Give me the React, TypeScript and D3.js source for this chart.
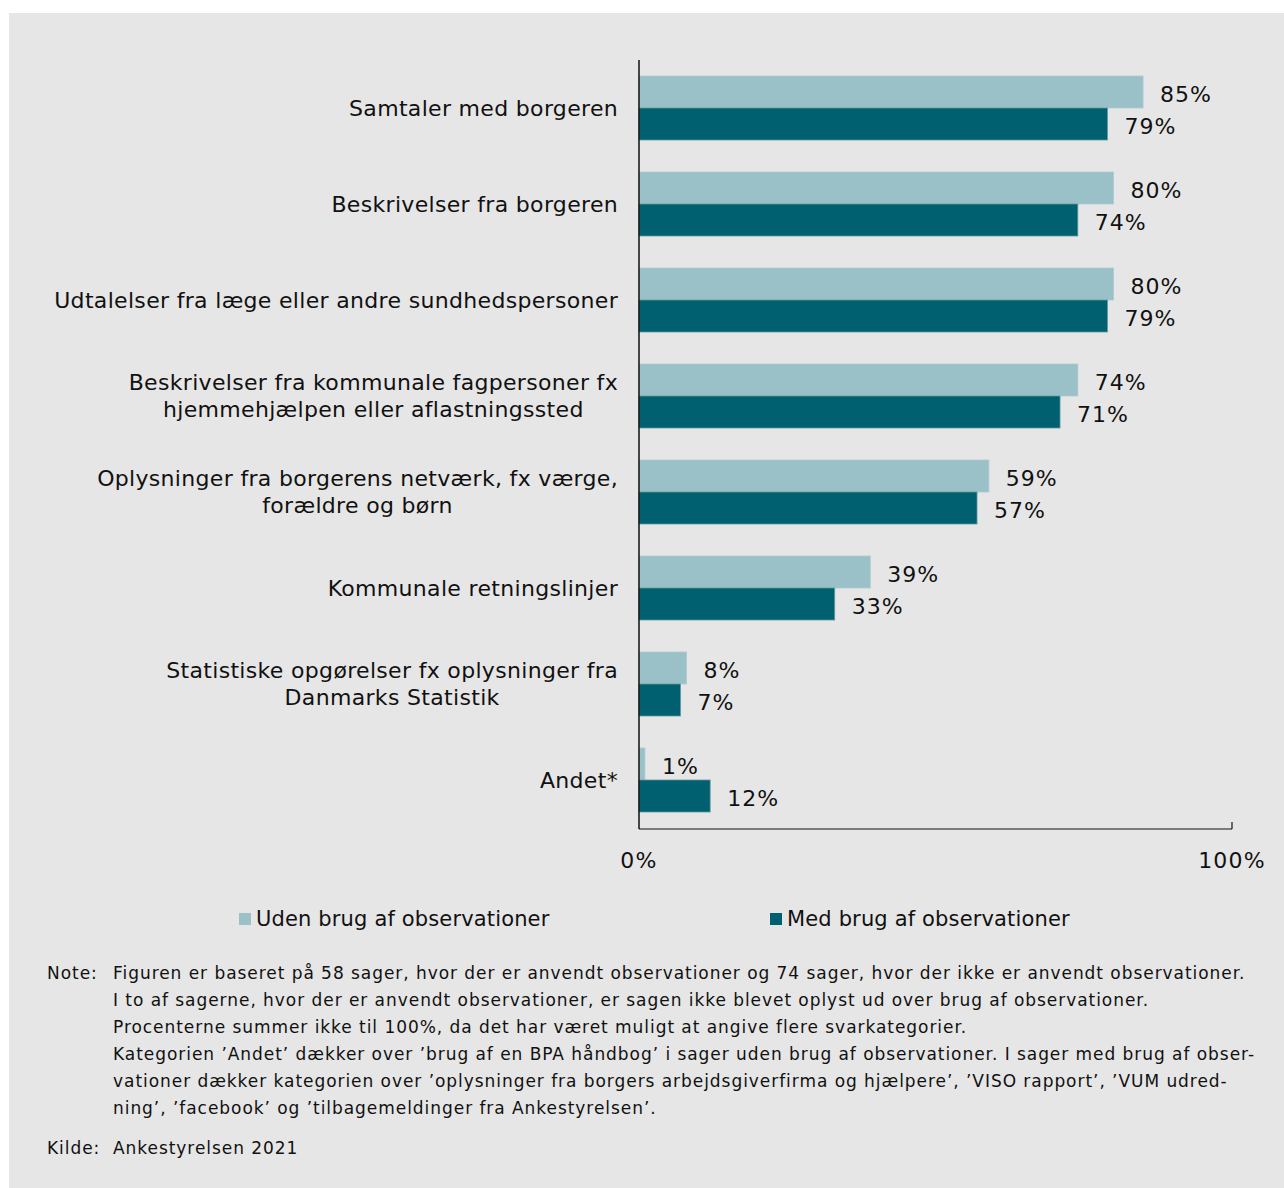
import React from "react";
import * as d3 from "d3";

const categories = [
  ["Samtaler med borgeren"],
  ["Beskrivelser fra borgeren"],
  ["Udtalelser fra læge eller andre sundhedspersoner"],
  ["Beskrivelser fra kommunale fagpersoner fx", "hjemmehjælpen eller aflastningssted"],
  ["Oplysninger fra borgerens netværk, fx værge,", "forældre og børn"],
  ["Kommunale retningslinjer"],
  ["Statistiske opgørelser fx oplysninger fra", "Danmarks Statistik"],
  ["Andet*"],
];
const udenValues = [85, 80, 80, 74, 59, 39, 8, 1];
const medValues = [79, 74, 79, 71, 57, 33, 7, 12];
const seriesNames = ["Uden brug af observationer", "Med brug af observationer"];
const xTicks = [0, 100];

const noteLines = [
  "Figuren er baseret på 58 sager, hvor der er anvendt observationer og 74 sager, hvor der ikke er anvendt observationer.",
  "I to af sagerne, hvor der er anvendt observationer, er sagen ikke blevet oplyst ud over brug af observationer.",
  "Procenterne summer ikke til 100%, da det har været muligt at angive flere svarkategorier.",
  "Kategorien ’Andet’ dækker over ’brug af en BPA håndbog’ i sager uden brug af observationer. I sager med brug af obser-",
  "vationer dækker kategorien over ’oplysninger fra borgers arbejdsgiverfirma og hjælpere’, ’VISO rapport’, ’VUM udred-",
  "ning’, ’facebook’ og ’tilbagemeldinger fra Ankestyrelsen’.",
];
const source = "Ankestyrelsen 2021";

const LIGHT = "#9bc1c8";
const DARK = "#00606f";
const FONT = "'DejaVu Sans', Verdana, sans-serif";

const CAT_SIZE = 22;
const CAT_LS = 0.32;

// rough text width via canvas, fonts are installed locally
let ctx: CanvasRenderingContext2D | null = null;
function textWidth(s: string, size: number, ls: number) {
  if (!ctx) ctx = document.createElement("canvas").getContext("2d");
  if (!ctx) return s.length * size * 0.6;
  ctx.font = `${size}px 'DejaVu Sans'`;
  return ctx.measureText(s).width + ls * s.length;
}

export default function App() {
  const width = 1284;
  const height = 1188;
  const axisTop = 60;
  const axisBottom = 829;
  const labelRight = 618;

  const x = d3.scaleLinear().domain([0, 100]).range([639, 1232]);
  const y = d3
    .scaleBand<number>()
    .domain(categories.map((_, i) => i))
    .range([axisTop, axisTop + 96 * categories.length])
    .paddingInner(1 / 3)
    .paddingOuter(1 / 6);
  const sub = d3.scaleBand<number>().domain([0, 1]).range([0, y.bandwidth()]);
  const series = [udenValues, medValues];
  const colors = [LIGHT, DARK];

  return (
    <svg
      width={width}
      height={height}
      style={{ position: "absolute", left: 0, top: 0 }}
      fontFamily={FONT}
    >
      <rect x={0} y={0} width={width} height={height} fill="#ffffff" />
      <rect x={9} y={13} width={width - 9} height={height - 13} fill="#e6e6e6" />

      {series.map((vals, s) =>
        vals.map((v, i) => (
          <g key={`${s}-${i}`}>
            <rect
              x={x(0)}
              y={y(i)! + sub(s)!}
              width={x(v) - x(0)}
              height={sub.bandwidth()}
              fill={colors[s]}
              stroke={s === 0 ? "#a9cad0" : "#5f98a1"}
              strokeWidth={0.8}
            />
            <text
              x={x(v) + 17}
              y={y(i)! + sub(s)! + sub.bandwidth() / 2}
              dy="0.45em"
              fontSize={22}
              letterSpacing={1}
              fill="#111"
            >
              {v}%
            </text>
          </g>
        ))
      )}

      {categories.map((lines, i) => {
        const cy = y(i)! + y.bandwidth() / 2;
        const lh = 27;
        const w = d3.max(lines, (l) => textWidth(l, CAT_SIZE, CAT_LS))!;
        const cx = labelRight - w / 2;
        return (
          <text
            key={i}
            fontSize={CAT_SIZE}
            letterSpacing={CAT_LS}
            fill="#111"
            textAnchor="middle"
          >
            {lines.map((l, j) => (
              <tspan
                key={j}
                x={cx}
                y={cy + (j - (lines.length - 1) / 2) * lh}
                dy="0.36em"
              >
                {l}
              </tspan>
            ))}
          </text>
        );
      })}

      <line x1={x(0)} x2={x(0)} y1={axisTop} y2={axisBottom} stroke="#111" strokeWidth={1.5} />
      <line x1={x(0)} x2={x(100)} y1={axisBottom} y2={axisBottom} stroke="#111" strokeWidth={1.2} />
      <line x1={x(100)} x2={x(100)} y1={axisBottom - 7} y2={axisBottom} stroke="#111" strokeWidth={1.2} />
      {xTicks.map((t) => (
        <text
          key={t}
          x={x(t)}
          y={868}
          textAnchor="middle"
          fontSize={22}
          letterSpacing={1.2}
          fill="#111"
        >
          {t}%
        </text>
      ))}

      {seriesNames.map((name, s) => {
        const lx = [239, 770][s];
        return (
          <g key={name}>
            <rect x={lx} y={913} width={12} height={12} fill={colors[s]} />
            <text x={lx + 17} y={926} fontSize={21} letterSpacing={0.15} fill="#111">
              {name}
            </text>
          </g>
        );
      })}

      <g fontSize={17} letterSpacing={0.95} fill="#111">
        <text x={47} y={979}>Note:</text>
        {noteLines.map((l, i) => (
          <text key={i} x={113} y={979 + i * 27}>
            {l}
          </text>
        ))}
        <text x={47} y={1154}>Kilde:</text>
        <text x={113} y={1154}>{source}</text>
      </g>
    </svg>
  );
}
